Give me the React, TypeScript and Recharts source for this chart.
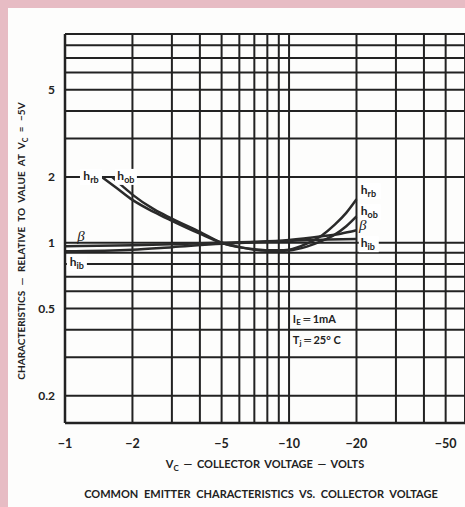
import React from "react";
import {
  ComposedChart,
  Line,
  XAxis,
  YAxis,
  CartesianGrid,
  ReferenceDot,
} from "recharts";

// grid / tick values (|Vc| in volts, relative value)
const xGrid = [1, 2, 3, 4, 5, 6, 7, 8, 9, 10, 20, 30, 40, 50];
const xLabeled = [1, 2, 5, 10, 20, 50];
const yGrid = [0.2, 0.3, 0.4, 0.5, 0.6, 0.7, 0.8, 0.9, 1, 2, 3, 4, 5, 6, 7, 8, 9];
const yLabeled = [0.2, 0.5, 1, 2, 5];

// curves
const hrbX = [1.46, 1.7, 2, 2.5, 3, 4, 5, 6, 7, 8, 9, 10, 12, 14, 16, 18, 20];
const hrbY = [2.0, 1.78, 1.57, 1.38, 1.26, 1.1, 1.0, 0.955, 0.935, 0.925, 0.925, 0.93, 0.99, 1.08, 1.21, 1.37, 1.58];

const hobX = [1.62, 1.8, 2, 2.5, 3, 4, 5, 6, 7, 8, 9, 10, 12, 14, 16, 18, 20];
const hobY = [2.0, 1.82, 1.66, 1.42, 1.29, 1.12, 1.0, 0.955, 0.93, 0.92, 0.918, 0.922, 0.96, 1.02, 1.09, 1.19, 1.32];

const betaX = [1, 2, 3, 5, 7, 10, 14, 17, 20];
const betaY = [0.965, 0.975, 0.985, 1.0, 1.01, 1.03, 1.07, 1.1, 1.14];

const hibX = [1, 2, 3, 5, 7, 10, 15, 20];
const hibY = [0.915, 0.93, 0.955, 0.99, 1.005, 1.02, 1.035, 1.04];

const toPoints = (xs: number[], ys: number[]) => xs.map((x, i) => ({ x, y: ys[i] }));

const FONT = "Lato, 'DejaVu Sans', sans-serif";
const INK = "#222";

const XTick = (props: any) => {
  const { x, y, payload } = props;
  if (!xLabeled.includes(payload.value)) return null;
  return (
    <text x={x} y={y + 17} textAnchor="middle" fontFamily={FONT} fontWeight={700} fontSize={12.5} fill={INK}>
      {"\u2212" + payload.value}
    </text>
  );
};

const YTick = (props: any) => {
  const { x, y, payload } = props;
  if (!yLabeled.includes(payload.value)) return null;
  return (
    <text x={x - 2} y={y + 4} textAnchor="end" fontFamily={FONT} fontWeight={700} fontSize={12} fill={INK}>
      {payload.value}
    </text>
  );
};

// "h" with subscript, on a white patch so the grid line breaks around it
const hLabel = (sub: string, anchor: "start" | "middle", w: number) => (props: any) => {
  const { cx, cy } = props;
  const left = anchor === "middle" ? cx - w / 2 : cx - 2;
  return (
    <g>
      <rect x={left} y={cy - 8} width={w} height={16} fill="#fff" />
      <text x={anchor === "middle" ? cx : cx} y={cy + 3} textAnchor={anchor} fontFamily={FONT} fontWeight={700} fontSize={12} fill={INK}>
        h<tspan fontSize={9} dy={3}>{sub}</tspan>
      </text>
    </g>
  );
};

const betaLabel = (props: any) => {
  const { cx, cy } = props;
  return (
    <text x={cx} y={cy + 5} textAnchor="middle" fontFamily="'Liberation Serif', serif" fontStyle="italic" fontSize={15} fill={INK}>
      β
    </text>
  );
};

const noteLabel = (main: string, sub: string, rest: string) => (props: any) => {
  const { cx, cy } = props;
  return (
    <text x={cx} y={cy + 4} fontFamily={FONT} fontWeight={700} fontSize={11} fill={INK}>
      {main}
      <tspan fontSize={8} dy={2}>{sub}</tspan>
      <tspan dy={-2}>{rest}</tspan>
    </text>
  );
};

export default function App() {
  return (
    <div style={{ position: "absolute", left: 0, top: 0, width: 465, height: 507, background: "#e7bcc4" }}>
      <div style={{ position: "absolute", left: 8, top: 8, right: 0, bottom: 0, background: "#fdfdfc" }} />
      <div style={{ position: "absolute", left: 0, top: 0 }}>
        <ComposedChart width={465} height={507} margin={{ top: 34, right: 0, bottom: 54, left: 0 }}>
          <CartesianGrid stroke={INK} strokeWidth={2} />
          <XAxis
            dataKey="x"
            type="number"
            scale="log"
            domain={[1, 61]}
            allowDataOverflow
            ticks={xGrid}
            height={30}
            tickLine={false}
            axisLine={{ stroke: INK, strokeWidth: 2.5 }}
            tick={<XTick />}
            interval={0}
          />
          <YAxis
            dataKey="y"
            type="number"
            scale="log"
            domain={[0.15, 9]}
            allowDataOverflow
            ticks={yGrid}
            width={65}
            tickLine={false}
            axisLine={{ stroke: INK, strokeWidth: 2.5 }}
            tick={<YTick />}
            interval={0}
          />
          <Line data={toPoints(hibX, hibY)} dataKey="y" type="monotone" stroke="#2a2a2a" strokeWidth={2.5} dot={false} isAnimationActive={false} />
          <Line data={toPoints(betaX, betaY)} dataKey="y" type="monotone" stroke="#2a2a2a" strokeWidth={2.5} dot={false} isAnimationActive={false} />
          <Line data={toPoints(hobX, hobY)} dataKey="y" type="monotone" stroke="#2a2a2a" strokeWidth={2.5} dot={false} isAnimationActive={false} />
          <Line data={toPoints(hrbX, hrbY)} dataKey="y" type="monotone" stroke="#2a2a2a" strokeWidth={2.5} dot={false} isAnimationActive={false} />

          <ReferenceDot x={1.306} y={2} r={0} shape={hLabel("rb", "middle", 22)} />
          <ReferenceDot x={1.87} y={2} r={0} shape={hLabel("ob", "middle", 22)} />
          <ReferenceDot x={1.13} y={0.81} r={0} shape={hLabel("ib", "middle", 20)} />
          <ReferenceDot x={1.18} y={1.07} r={0} shape={betaLabel} />
          <ReferenceDot x={20.9} y={1.72} r={0} shape={hLabel("rb", "start", 22)} />
          <ReferenceDot x={20.9} y={1.38} r={0} shape={hLabel("ob", "start", 22)} />
          <ReferenceDot x={21.3} y={1.21} r={0} shape={betaLabel} />
          <ReferenceDot x={20.9} y={0.985} r={0} shape={hLabel("ib", "start", 20)} />
          <ReferenceDot x={10.4} y={0.45} r={0} shape={noteLabel("I", "E", " \u2550 1mA")} />
          <ReferenceDot x={10.4} y={0.36} r={0} shape={noteLabel("T", "j", " \u2550 25\u00b0 C")} />
        </ComposedChart>
      </div>
      <div
        style={{
          position: "absolute",
          left: 22,
          top: 241,
          transform: "translate(-50%, -50%) rotate(-90deg)",
          whiteSpace: "nowrap",
          fontFamily: FONT,
          fontWeight: 700,
          fontSize: 10,
          color: INK,
          wordSpacing: 3,
        }}
      >
        CHARACTERISTICS — RELATIVE TO VALUE AT V<sub style={{ fontSize: 7 }}>C</sub> = −5V
      </div>
      <div
        style={{
          position: "absolute",
          left: 265,
          top: 465,
          transform: "translate(-50%, -50%)",
          whiteSpace: "nowrap",
          fontFamily: FONT,
          fontWeight: 700,
          fontSize: 11,
          color: INK,
          wordSpacing: 2,
        }}
      >
        V<sub style={{ fontSize: 8 }}>C</sub> — COLLECTOR VOLTAGE — VOLTS
      </div>
      <div
        style={{
          position: "absolute",
          left: 261,
          top: 493,
          transform: "translate(-50%, -50%)",
          whiteSpace: "nowrap",
          fontFamily: FONT,
          fontWeight: 700,
          fontSize: 11,
          color: INK,
          wordSpacing: 3,
        }}
      >
        COMMON EMITTER CHARACTERISTICS VS. COLLECTOR VOLTAGE
      </div>
    </div>
  );
}
